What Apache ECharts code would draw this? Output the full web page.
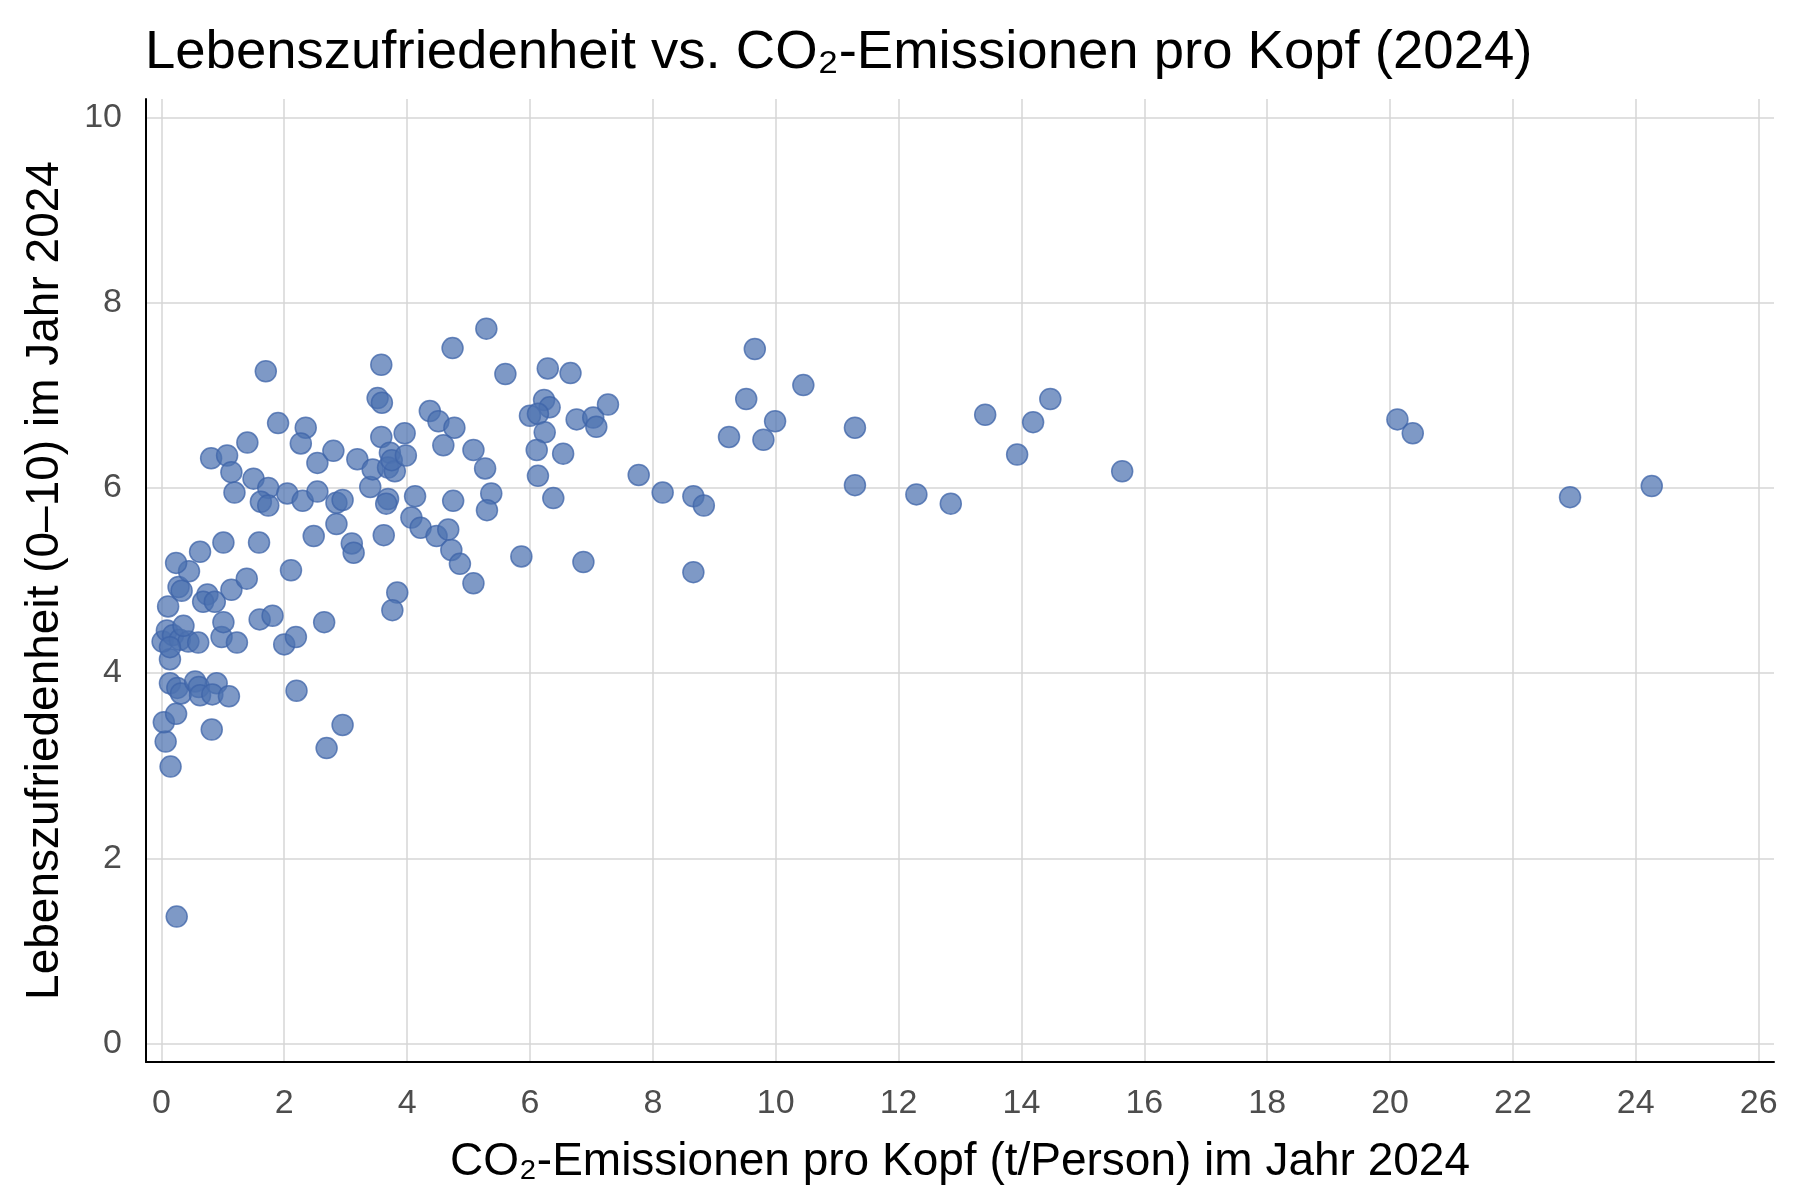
<!DOCTYPE html>
<html>
<head>
<meta charset="utf-8">
<script src="https://cdn.jsdelivr.net/npm/echarts@6/dist/echarts.min.js"></script>
<style>
	html, body { margin: 0; padding: 0; background: #ffffff; }
	#chart_scatter { width: 1800px; height: 1200px; }
</style>
</head>
<body>
<div id="chart_scatter"></div>
<script>
//CO2 pro Kopf (t/Person)
var co2Werte = [
	0.25, 0.15, 0.07, 0.04, 0.24, 0.82, 0.14, 0.26, 0.32, 0.55,
	0.61, 0.63, 0.90, 0.83, 1.10, 2.20, 2.95, 2.69, 0.14, 0.02,
	0.09, 0.19, 0.30, 0.44, 0.60, 0.14, 0.36, 0.98, 1.23, 2.00,
	2.19, 1.01, 1.60, 1.81, 2.65, 0.11, 0.75, 0.68, 0.87, 0.28,
	0.33, 1.14, 1.39, 0.45, 0.24, 0.63, 1.01, 1.59, 2.11, 2.48,
	2.85, 3.10, 3.13, 3.62, 3.84, 3.76, 0.81, 1.07, 1.14, 1.19,
	1.40, 1.50, 1.70, 1.90, 2.35, 2.27, 1.74, 1.62, 1.74, 2.05,
	2.30, 2.54, 2.54, 2.80, 2.85, 2.95, 3.19, 3.40, 3.44, 3.58,
	3.52, 3.59, 3.58, 3.72, 3.69, 3.80, 3.75, 3.69, 3.66, 3.96,
	3.98, 4.13, 4.07, 4.22, 4.48, 4.67, 4.72, 4.86, 5.08, 4.37,
	4.51, 4.77, 4.59, 4.74, 5.29, 5.60, 5.08, 5.27, 4.75, 5.37,
	5.30, 5.86, 6.29, 6.66, 6.23, 6.32, 6.00, 6.13, 6.24, 6.11,
	6.54, 6.13, 6.38, 6.76, 7.03, 7.08, 7.27, 6.87, 7.77, 8.16,
	8.66, 8.83, 8.66, 9.24, 9.52, 9.66, 9.80, 9.99, 10.45, 11.29,
	11.29, 12.29, 12.85, 13.41, 13.93, 14.19, 14.47, 15.64, 20.12, 20.37,
	22.93, 24.26
];
//Lebenszufriedenheit (0-10)
var zufriedenheitWerte = [
	1.37, 2.99, 3.26, 3.47, 3.56, 3.39, 3.89, 3.84, 3.78, 3.91,
	3.85, 3.76, 3.89, 3.77, 3.75, 3.81, 3.44, 3.19, 4.15, 4.34,
	4.46, 4.41, 4.36, 4.34, 4.33, 4.28, 4.51, 4.39, 4.33, 4.31,
	4.39, 4.55, 4.58, 4.62, 4.55, 4.72, 4.85, 4.77, 4.77, 4.93,
	4.89, 4.90, 5.02, 5.10, 5.19, 5.31, 5.41, 5.41, 5.11, 5.48,
	5.61, 5.40, 5.30, 5.49, 4.87, 4.68, 6.32, 6.35, 6.17, 5.95,
	6.49, 6.10, 7.26, 6.70, 6.65, 6.48, 6.00, 5.85, 5.81, 5.94,
	5.86, 5.96, 6.27, 6.40, 5.84, 5.87, 6.31, 6.01, 6.20, 7.33,
	6.97, 6.92, 6.55, 6.38, 6.22, 6.18, 6.30, 5.88, 5.83, 6.59,
	6.35, 5.91, 5.68, 5.57, 5.48, 5.55, 5.33, 5.18, 4.97, 6.83,
	6.72, 6.65, 6.46, 7.51, 7.72, 7.23, 6.41, 6.21, 5.86, 5.94,
	5.76, 5.26, 7.29, 7.24, 6.95, 6.87, 6.78, 6.80, 6.60, 6.41,
	6.37, 6.13, 5.89, 6.74, 6.76, 6.66, 6.90, 5.20, 6.14, 5.95,
	5.91, 5.81, 5.09, 6.55, 6.96, 7.50, 6.52, 6.72, 7.11, 6.65,
	6.03, 5.93, 5.83, 6.79, 6.36, 6.71, 6.96, 6.18, 6.74, 6.59,
	5.90, 6.02
];
//Achsenbeschriftung
var xTicks = [0, 2, 4, 6, 8, 10, 12, 14, 16, 18, 20, 22, 24, 26];
var yTicks = [0, 2, 4, 6, 8, 10];

var strTitel = 'Lebenszufriedenheit vs. CO\u2082-Emissionen pro Kopf (2024)';
var strXName = 'CO\u2082-Emissionen pro Kopf (t/Person) im Jahr 2024';
var strYName = 'Lebenszufriedenheit (0\u201310) im Jahr 2024';

var punkte = [];
for(var i = 0; i < co2Werte.length; i++) {
	punkte.push([co2Werte[i], zufriedenheitWerte[i]]);
}

var schrift = '"Liberation Sans", Arial, sans-serif';

var option_scatter = {
	animation: false,
	backgroundColor: '#ffffff',
	title: {
		text: strTitel,
		left: 140,
		top: 20,
		textStyle: {
			fontFamily: schrift,
			fontSize: 54.5,
			fontWeight: 'normal',
			color: '#000000'
		}
	},
	grid: {
		left: 146,
		right: 26,
		top: 99,
		bottom: 138
	},
	xAxis: {
		type: 'value',
		min: -0.25,
		max: 26.25,
		name: strXName,
		nameLocation: 'middle',
		nameGap: 77,
		nameTextStyle: {
			fontFamily: schrift,
			fontSize: 46,
			color: '#000000'
		},
		axisLine: {
			onZero: false,
			lineStyle: { color: '#000000', width: 2 }
		},
		axisTick: { show: false, customValues: xTicks },
		axisLabel: {
			customValues: xTicks,
			margin: 25,
			fontFamily: schrift,
			fontSize: 34,
			color: '#4d4d4d'
		},
		splitLine: {
			show: true,
			lineStyle: { color: '#d6d6d6', width: 1.5 }
		}
	},
	yAxis: {
		type: 'value',
		min: -0.2,
		max: 10.2,
		name: strYName,
		nameLocation: 'middle',
		nameGap: 78,
		nameTextStyle: {
			fontFamily: schrift,
			fontSize: 46,
			color: '#000000'
		},
		axisLine: {
			show: true,
			onZero: false,
			lineStyle: { color: '#000000', width: 2 }
		},
		axisTick: { show: false, customValues: yTicks },
		axisLabel: {
			customValues: yTicks,
			margin: 24,
			fontFamily: schrift,
			fontSize: 34,
			color: '#4d4d4d'
		},
		splitLine: {
			show: true,
			lineStyle: { color: '#d6d6d6', width: 1.5 }
		}
	},
	series: [{
		type: 'scatter',
		data: punkte,
		symbol: 'circle',
		symbolSize: 21,
		itemStyle: {
			color: 'rgba(76, 114, 176, 0.9)',
			borderColor: 'rgba(62, 100, 168, 0.95)',
			borderWidth: 1.5
		}
	}]
};
var scatterEchart = echarts.init(document.getElementById('chart_scatter'));
scatterEchart.setOption(option_scatter);
</script>
</body>
</html>
